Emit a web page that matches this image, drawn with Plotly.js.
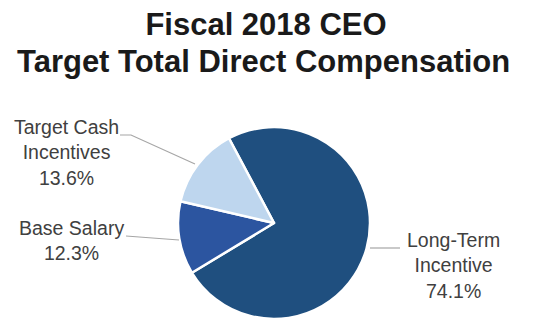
<!DOCTYPE html>
<html>
<head>
<meta charset="utf-8">
<script src="https://cdn.plot.ly/plotly-3.0.1.min.js"></script>
<style>html,body{margin:0;padding:0;background:#fff;}#chart{width:538px;height:319px;}</style>
</head>
<body>
<div id="chart"></div>
<script>
// Data
const titleLines = ['Fiscal 2018 CEO', 'Target Total Direct Compensation'];
const categories = ['Long-Term Incentive', 'Base Salary', 'Target Cash Incentives'];
const labelLines = ['Long-Term<br>Incentive', 'Base Salary', 'Target Cash<br>Incentives'];
const values = [74.1, 12.3, 13.6];
const colors = ['#1f4f7f', '#2c55a0', '#bed6ee'];

// Layout helpers (pixel -> paper)
const W = 538, H = 319;
const px = x => x / W;
const py = y => 1 - y / H;

const labelPos = [
  {x: 453, y: 265},
  {x: 71, y: 241},
  {x: 66, y: 152}
];
const leaders = [
  [[370, 248], [400, 248]],
  [[126, 236], [179, 240]],
  [[120, 135], [131, 135], [195, 164]]
];

const textFont = {family: 'Liberation Sans, Arial, sans-serif', size: 19.5, color: '#404040'};

const annotations = categories.map((c, i) => ({
  xref: 'paper', yref: 'paper',
  x: px(labelPos[i].x), y: py(labelPos[i].y),
  xanchor: 'center', yanchor: 'middle',
  text: labelLines[i] + '<br>' + values[i].toFixed(1) + '%',
  showarrow: false, align: 'center', font: textFont
}));
annotations.push({
  xref: 'paper', yref: 'paper', x: px(263), y: py(61),
  xanchor: 'center', yanchor: 'middle', showarrow: false,
  text: titleLines[1],
  font: {family: 'Liberation Sans, Arial, sans-serif', size: 31, weight: 'bold', color: '#1a1a1a'}
});

const shapes = leaders.map(pts => ({
  type: 'path', xref: 'paper', yref: 'paper',
  path: pts.map((p, k) => (k ? 'L' : 'M') + px(p[0]) + ',' + py(p[1])).join(' '),
  line: {color: '#a6a6a6', width: 1.2}
}));

const trace = {
  type: 'pie',
  labels: categories,
  values: values,
  sort: false,
  direction: 'clockwise',
  rotation: -28,
  marker: {colors: colors, line: {color: '#ffffff', width: 2.5}},
  textinfo: 'none',
  hoverinfo: 'label+percent',
  showlegend: false,
  domain: {x: [px(274 - 96), px(274 + 96)], y: [py(319), py(127)]}
};

const layout = {
  width: W, height: H,
  margin: {l: 0, r: 0, t: 0, b: 0},
  paper_bgcolor: '#ffffff',
  showlegend: false,
  title: {
    text: titleLines[0],
    x: px(266), xref: 'paper', xanchor: 'center',
    y: py(24), yref: 'container', yanchor: 'middle',
    font: {family: 'Liberation Sans, Arial, sans-serif', size: 31, weight: 'bold', color: '#1a1a1a'}
  },
  annotations: annotations,
  shapes: shapes
};

Plotly.newPlot('chart', [trace], layout, {displayModeBar: false, staticPlot: true});
</script>
</body>
</html>
